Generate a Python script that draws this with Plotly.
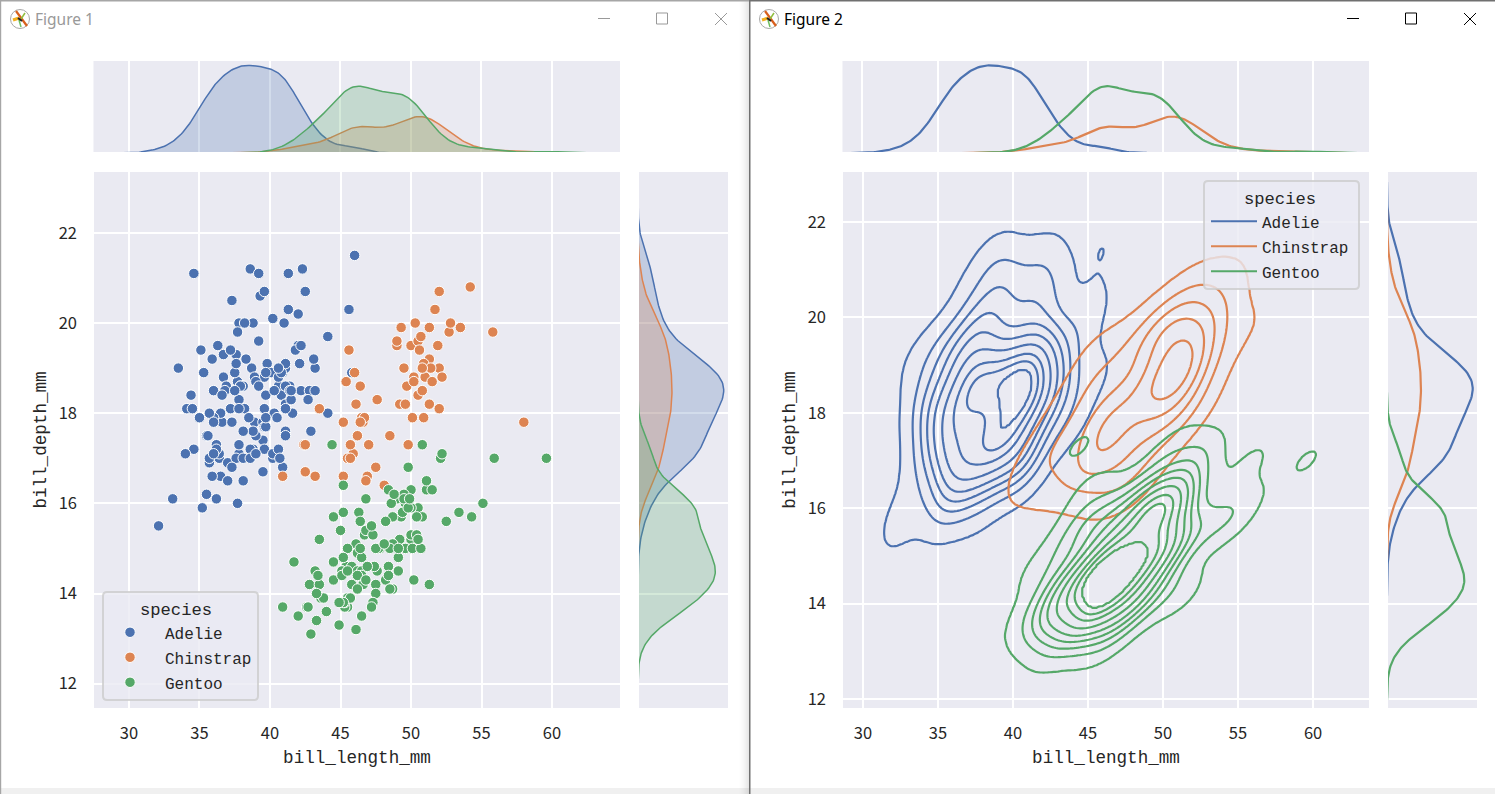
import numpy as np
import plotly.graph_objects as go

W, H = 1495, 794
HV = 792  # drawn height the page actually shows; positions below are mapped through it

species = ["Adelie", "Chinstrap", "Gentoo"]
colors = ["#4C72B0", "#DD8452", "#55A868"]
fills = ["rgba(76,114,176,0.25)", "rgba(221,132,82,0.25)", "rgba(85,168,104,0.25)"]

adelie_length = [39.1,39.5,40.3,36.7,39.3,38.9,39.2,34.1,42.0,37.8,37.8,41.1,38.6,34.6,36.6,38.7,42.5,34.4,46.0,37.8,37.7,35.9,38.2,38.8,35.3,40.6,40.5,37.9,40.5,39.5,37.2,39.5,40.9,36.4,39.2,38.8,42.2,37.6,39.8,36.5,40.8,36.0,44.1,37.0,39.6,41.1,37.5,36.0,42.3,39.6,40.1,35.0,42.0,34.5,41.4,39.0,40.6,36.5,37.6,35.7,41.3,37.6,41.1,36.4,41.6,35.5,41.1,35.9,41.8,33.5,39.7,39.6,45.8,35.5,42.8,40.9,37.2,36.2,42.1,34.6,42.9,36.7,35.1,37.3,41.3,36.3,36.9,38.3,38.9,35.7,41.1,34.0,39.6,36.2,40.8,38.1,40.3,33.1,43.2,35.0,41.0,37.7,37.8,37.9,39.7,38.6,38.2,38.1,43.2,38.1,45.6,39.7,42.2,39.6,42.7,38.6,37.3,35.7,41.1,36.2,37.7,40.2,41.4,35.2,40.6,38.8,41.5,39.0,44.1,38.5,43.1,36.8,37.5,38.1,41.1,35.6,40.2,37.0,39.7,40.2,40.6,32.1,40.7,37.3,39.0,39.2,36.6,36.0,37.8,36.0,41.5]
adelie_depth = [18.7,17.4,18.0,19.3,20.6,17.8,19.6,18.1,20.2,17.1,17.3,17.6,21.2,21.1,17.8,19.0,20.7,18.4,21.5,18.3,18.7,19.2,18.1,17.2,18.9,18.6,17.9,18.6,18.9,16.7,18.1,17.8,18.9,17.0,21.1,20.0,18.5,19.3,19.1,18.0,18.4,18.5,19.7,16.9,18.8,19.0,18.9,17.9,21.2,17.7,18.9,17.9,19.5,18.1,18.6,17.5,18.8,16.6,19.1,16.9,21.1,17.0,18.2,17.1,18.0,16.2,19.1,16.6,19.4,19.0,18.4,17.2,18.9,17.5,18.5,16.8,19.4,16.1,19.1,17.2,17.6,18.8,19.4,17.8,20.3,19.5,18.6,19.2,18.8,18.0,18.1,17.1,18.1,17.3,18.9,18.6,18.5,16.1,18.5,17.9,20.0,16.0,20.0,18.6,18.9,17.2,20.0,17.0,19.0,16.5,20.3,17.7,19.5,20.7,18.3,17.0,20.5,17.0,18.6,17.2,19.8,17.0,18.5,15.9,19.0,17.6,18.3,17.1,18.0,17.9,19.2,18.5,18.5,17.6,17.5,17.5,20.1,16.5,17.9,17.1,17.2,15.5,17.0,16.8,18.7,18.6,18.4,17.8,18.1,17.1,18.5]
chinstrap_length = [46.5,50.0,51.3,45.4,52.7,45.2,46.1,51.3,46.0,51.3,46.6,51.7,47.0,52.0,45.9,50.5,50.3,58.0,46.4,49.2,42.4,48.5,43.2,50.6,46.7,52.0,50.5,49.5,46.4,52.8,40.9,54.2,42.5,51.0,49.7,47.5,47.6,52.0,46.9,53.5,49.0,46.2,50.9,45.5,50.9,50.8,50.1,49.0,51.5,49.8,48.1,51.4,45.7,50.7,42.5,52.2,45.2,49.3,50.2,45.6,51.9,46.8,45.7,55.8,43.5,49.6,50.8,50.2]
chinstrap_depth = [17.9,19.5,19.2,18.7,19.8,17.8,18.2,18.2,18.9,19.9,17.8,20.3,17.3,18.1,17.1,19.6,20.0,17.8,18.6,18.2,17.3,17.5,16.6,19.4,17.9,19.0,18.4,19.0,17.8,20.0,16.6,20.8,16.7,18.8,18.6,16.8,18.3,20.7,16.6,19.9,19.5,17.5,19.1,17.0,17.9,18.5,17.9,19.6,18.7,17.3,16.4,19.0,17.3,19.7,17.3,18.8,16.6,19.9,18.8,19.4,19.5,16.5,17.0,19.8,18.1,18.2,19.0,18.7]
gentoo_length = [46.1,50.0,48.7,50.0,47.6,46.5,45.4,46.7,43.3,46.8,40.9,49.0,45.5,48.4,45.8,49.3,42.0,49.2,46.2,48.7,50.2,45.1,46.5,46.3,42.9,46.1,44.5,47.8,48.2,50.0,47.3,42.8,45.1,59.6,49.1,48.4,42.6,44.4,44.0,48.7,42.7,49.6,45.3,49.6,50.5,43.6,45.5,50.5,44.9,45.2,46.6,48.5,45.1,50.1,46.5,45.0,43.8,45.5,43.2,50.4,45.3,46.2,45.7,54.3,45.8,49.8,46.2,49.5,43.5,50.7,47.7,46.4,48.2,46.5,46.4,48.6,47.5,51.1,45.2,45.2,49.1,52.5,47.4,50.0,44.9,50.8,43.4,51.3,47.5,52.1,47.5,52.2,45.5,49.5,44.5,50.8,49.4,46.9,48.4,51.1,48.5,55.9,47.2,49.1,47.3,46.8,41.7,53.4,43.3,48.1,50.5,49.8,43.5,51.5,46.2,55.1,44.5,48.8,47.2,46.8,50.4,45.2,49.9]
gentoo_depth = [13.2,16.3,14.1,15.2,14.5,13.5,14.6,15.3,13.4,15.4,13.7,16.1,13.7,14.6,14.6,15.7,13.5,15.2,14.5,15.1,14.3,14.5,14.5,15.8,13.1,15.1,14.3,15.0,14.3,15.3,15.3,14.2,14.5,17.0,14.8,16.3,13.7,17.3,13.6,15.7,13.7,16.0,13.7,15.0,15.9,13.9,13.9,15.9,13.3,15.8,14.2,14.1,14.4,15.0,14.4,15.4,13.9,15.0,14.5,15.3,13.8,14.9,13.9,15.7,14.2,16.8,14.4,16.2,14.2,15.0,15.0,15.6,15.6,14.8,15.0,16.0,14.2,16.3,13.8,16.4,14.5,15.6,14.6,15.9,13.8,17.3,14.4,14.2,14.0,17.0,15.0,17.1,14.5,16.1,14.7,15.7,15.8,14.6,14.4,16.5,15.0,17.0,15.5,15.0,13.8,16.1,14.7,15.8,14.0,15.1,15.2,15.9,15.2,16.3,14.1,16.0,15.7,16.2,13.7,14.3,15.7,14.8,16.1]

lengths = [adelie_length, chinstrap_length, gentoo_length]
depths = [adelie_depth, chinstrap_depth, gentoo_depth]
x_ticks = [30, 35, 40, 45, 50, 55, 60]
y_ticks = [12, 14, 16, 18, 20, 22]
x_title, y_title = "bill_length_mm", "bill_depth_mm"
window_titles = ["Figure 1", "Figure 2"]
legend_title = "species"

TOTAL = sum(len(v) for v in lengths)
GRID = 200


def kde1d(values):
    v = np.asarray(values, float)
    n = len(v)
    bw = v.std(ddof=1) * n ** (-1 / 5)
    g = np.linspace(v.min() - 3 * bw, v.max() + 3 * bw, GRID)
    d = np.exp(-0.5 * ((g[:, None] - v[None, :]) / bw) ** 2).sum(axis=1)
    d /= n * bw * np.sqrt(2 * np.pi)
    return g, d * n / TOTAL


def kde2d(xs, ys):
    x, y = np.asarray(xs, float), np.asarray(ys, float)
    n = len(x)
    f = n ** (-1 / 6)
    cov = np.cov(x, y) * f ** 2
    inv = np.linalg.inv(cov)
    gx = np.linspace(x.min() - 3 * np.sqrt(cov[0, 0]), x.max() + 3 * np.sqrt(cov[0, 0]), GRID)
    gy = np.linspace(y.min() - 3 * np.sqrt(cov[1, 1]), y.max() + 3 * np.sqrt(cov[1, 1]), GRID)
    dx = gx[None, :, None] - x[None, None, :]
    dy = gy[:, None, None] - y[None, None, :]
    q = inv[0, 0] * dx ** 2 + 2 * inv[0, 1] * dx * dy + inv[1, 1] * dy ** 2
    z = np.exp(-0.5 * q).sum(axis=2) / (n * 2 * np.pi * np.sqrt(np.linalg.det(cov)))
    return gx, gy, z * n / TOTAL


def xp(px):
    return px / W


def yp(py):
    return 1 - py / HV


def dom(a, b):
    return [xp(a), xp(b)]


def domy(top, bottom):
    return [yp(bottom), yp(top)]


fig = go.Figure()

marg_x = [kde1d(v) for v in lengths]
marg_y = [kde1d(v) for v in depths]
peak_x = max(d.max() for _, d in marg_x) * 1.05
peak_y = max(d.max() for _, d in marg_y) * 1.05
# lower bound lifted about one pixel so the flat tails are clipped away as in the reference
low_x = peak_x / 91
low_y = peak_y / 89

# ---- Figure 1: scatter with filled marginals
for i, s in enumerate(species):
    fig.add_trace(go.Scatter(
        x=lengths[i], y=depths[i], mode="markers", name=s, legend="legend", legendgroup="a" + s,
        marker=dict(color=colors[i], size=10.5, line=dict(color="white", width=1)),
        xaxis="x", yaxis="y", hoverinfo="skip"))
for i, s in enumerate(species):
    g, d = marg_x[i]
    fig.add_trace(go.Scatter(x=g, y=d, mode="lines", fill="tozeroy", fillcolor=fills[i],
                             line=dict(color=colors[i], width=1.5), showlegend=False,
                             xaxis="x2", yaxis="y2", hoverinfo="skip"))
    g, d = marg_y[i]
    fig.add_trace(go.Scatter(x=d, y=g, mode="lines", fill="tozerox", fillcolor=fills[i],
                             line=dict(color=colors[i], width=1.5), showlegend=False,
                             xaxis="x3", yaxis="y3", hoverinfo="skip"))

# ---- Figure 2: KDE contours with line marginals
grids = [kde2d(lengths[i], depths[i]) for i in range(3)]
pooled = np.sort(np.concatenate([z.ravel() for _, _, z in grids]))[::-1]
cum = np.cumsum(pooled) / pooled.sum()
iso = np.linspace(0.05, 1, 10)[:-1]
levels = pooled[np.searchsorted(cum, 1 - iso)]
levels = np.sort(levels)
nl = len(levels)
for i, s in enumerate(species):
    gx, gy, z = grids[i]
    zz = np.interp(z, np.r_[0, levels, pooled[0] * 2], np.r_[0, np.arange(1, nl + 1), nl + 1])
    fig.add_trace(go.Contour(
        x=gx, y=gy, z=zz.astype("float32"), showscale=False, hoverinfo="skip",
        autocontour=False, contours=dict(start=1, end=nl, size=1, coloring="lines"),
        line=dict(width=2.2, smoothing=0),
        colorscale=[[0, colors[i]], [1, colors[i]]],
        xaxis="x4", yaxis="y4", showlegend=False))
for i, s in enumerate(species):
    g, d = marg_x[i]
    fig.add_trace(go.Scatter(x=g, y=d, mode="lines", name=s, legend="legend2", legendgroup="b" + s,
                             line=dict(color=colors[i], width=2.2),
                             xaxis="x5", yaxis="y5", hoverinfo="skip"))
    g, d = marg_y[i]
    fig.add_trace(go.Scatter(x=d, y=g, mode="lines", showlegend=False,
                             line=dict(color=colors[i], width=2.2),
                             xaxis="x6", yaxis="y6", hoverinfo="skip"))

TICK = dict(family="Noto Sans CJK SC, Noto Sans, sans-serif", size=16.5, color="#262626")
MONO_FAM = "Liberation Mono, DejaVu Sans Mono, monospace"
MONO = dict(family=MONO_FAM, size=17.6, color="#262626")
LEG = dict(family=MONO_FAM, size=16, color="#262626")
LEGT = dict(family=MONO_FAM, size=17.2, color="#262626")
BG = "#EAEAF2"


def main_x(d, rng, anchor):
    return dict(domain=d, range=rng, anchor=anchor, tickvals=x_ticks, showgrid=True, gridcolor="white",
                gridwidth=2, zeroline=False, showline=False, ticks="", tickfont=TICK, ticklabelstandoff=13,
                title=dict(text=x_title, font=MONO, standoff=8))


def main_y(d, rng, anchor):
    return dict(domain=d, range=rng, anchor=anchor, tickvals=y_ticks, showgrid=True, gridcolor="white",
                gridwidth=2, zeroline=False, showline=False, ticks="", tickfont=TICK, ticklabelstandoff=16,
                title=dict(text=y_title, font=MONO, standoff=7))


def top_x(d, rng, anchor):
    return dict(domain=d, range=rng, anchor=anchor, tickvals=x_ticks, showgrid=True, gridcolor="white",
                gridwidth=2, zeroline=False, showticklabels=False, ticks="")


def plain(d, rng, anchor):
    return dict(domain=d, range=rng, anchor=anchor, showgrid=False, zeroline=False,
                showticklabels=False, ticks="")


def right_y(d, rng, anchor):
    return dict(domain=d, range=rng, anchor=anchor, tickvals=y_ticks, showgrid=True, gridcolor="white",
                gridwidth=2, zeroline=False, showticklabels=False, ticks="")


XR1, YR1 = [27.52, 64.82], [11.46, 23.35]
XR2, YR2 = [28.67, 63.73], [11.81, 23.05]
MTOP = domy(61, 152)
MMAIN = domy(172, 708)

shapes = []


def rect(x0, y0, x1, y1, fill, opacity=1.0):
    shapes.append(dict(type="rect", xref="paper", yref="paper", x0=xp(x0), x1=xp(x1), y0=yp(y0), y1=yp(y1),
                       fillcolor=fill, line=dict(width=0), opacity=opacity, layer="below"))


def seg(x0, y0, x1, y1, color, width=1.0):
    shapes.append(dict(type="line", xref="paper", yref="paper", x0=xp(x0), x1=xp(x1), y0=yp(y0), y1=yp(y1),
                       line=dict(color=color, width=width), layer="below"))


def legend_frame(x0, y0, x1, y1, r=4):
    p = (f"M {xp(x0 + r)} {yp(y0)} L {xp(x1 - r)} {yp(y0)} Q {xp(x1)} {yp(y0)} {xp(x1)} {yp(y0 + r)} "
         f"L {xp(x1)} {yp(y1 - r)} Q {xp(x1)} {yp(y1)} {xp(x1 - r)} {yp(y1)} "
         f"L {xp(x0 + r)} {yp(y1)} Q {xp(x0)} {yp(y1)} {xp(x0)} {yp(y1 - r)} "
         f"L {xp(x0)} {yp(y0 + r)} Q {xp(x0)} {yp(y0)} {xp(x0 + r)} {yp(y0)} Z")
    shapes.append(dict(type="path", xref="paper", yref="paper", path=p, fillcolor="rgba(234,234,242,0.8)",
                       line=dict(color="rgba(204,204,204,0.8)", width=2), layer="above"))


def icon(cx, cy):
    shapes.append(dict(type="circle", xref="paper", yref="paper", x0=xp(cx - 9.5), x1=xp(cx + 9.5),
                       y0=yp(cy + 9.5), y1=yp(cy - 9.5), line=dict(color="#a8a8a8", width=1), layer="below"))
    seg(cx - 4, cy - 8, cx + 7, cy + 7, "#d9601c", 2.2)
    seg(cx - 7, cy + 1, cx - 1, cy - 1, "#f2b01e", 3)
    seg(cx + 1, cy, cx + 5, cy - 6, "#8fbf3f", 1.5)
    seg(cx - 1, cy + 1, cx + 1, cy + 8, "#6fbf5f", 1.5)
    seg(cx - 2, cy - 1, cx + 2, cy + 2, "#222222", 2)


# window chrome
rect(0, 788, W, HV + 4, "#f0f0f0")
for k in range(10):
    rect(739 + k, 0, 740 + k, HV + 4, "#000000", opacity=0.0025 * (k + 1) ** 1.6)
rect(0, 0, 749, 1.5, "#a6a6a6")
rect(0, 0, 1.2, HV + 4, "#a6a6a6")
rect(750, 0, W, 1.5, "#707070")
rect(749, 0, 750.5, HV + 4, "#707070")
icon(20, 19)
icon(769, 19)
GA, GB = "#999999", "#000000"
seg(598, 18.5, 610, 18.5, GA)
seg(715, 13, 727, 25, GA)
seg(715, 25, 727, 13, GA)
shapes.append(dict(type="rect", xref="paper", yref="paper", x0=xp(656.5), x1=xp(667.5), y0=yp(24), y1=yp(13),
                   line=dict(color=GA, width=1), layer="below"))
seg(1347, 18.5, 1359, 18.5, GB)
seg(1464, 13, 1476, 25, GB)
seg(1464, 25, 1476, 13, GB)
shapes.append(dict(type="rect", xref="paper", yref="paper", x0=xp(1405.5), x1=xp(1416.5), y0=yp(24), y1=yp(13),
                   line=dict(color=GB, width=1), layer="below"))
legend_frame(103, 592, 258, 700)
legend_frame(1204, 181, 1359, 289)

annotations = [
    dict(text=window_titles[0], x=xp(33), y=yp(19), xref="paper", yref="paper", xanchor="left", yanchor="middle",
         showarrow=False, font=dict(family="Noto Sans, sans-serif", size=15.5, color="#999999")),
    dict(text=window_titles[1], x=xp(782), y=yp(19), xref="paper", yref="paper", xanchor="left", yanchor="middle",
         showarrow=False, font=dict(family="Noto Sans, sans-serif", size=15.5, color="#000000")),
]

leg_common = dict(bgcolor="rgba(0,0,0,0)", borderwidth=0, font=LEG, xanchor="left", yanchor="top",
                  tracegroupgap=1.2, title=dict(text=legend_title, font=LEGT, side="top center"))

fig.update_layout(
    width=W, height=H, autosize=False, margin=dict(l=0, r=0, t=0, b=0),
    paper_bgcolor="white", plot_bgcolor=BG, hovermode=False,
    xaxis=main_x(dom(94, 620), XR1, "y"),
    yaxis=main_y(MMAIN, YR1, "x"),
    xaxis2=top_x(dom(93.5, 620), XR1, "y2"),
    yaxis2=plain(MTOP, [low_x, peak_x], "x2"),
    xaxis3=plain(dom(639, 728), [low_y, peak_y], "y3"),
    yaxis3=right_y(MMAIN, YR1, "x3"),
    xaxis4=main_x(dom(843, 1369), XR2, "y4"),
    yaxis4=main_y(MMAIN, YR2, "x4"),
    xaxis5=top_x(dom(842.5, 1369), XR2, "y5"),
    yaxis5=plain(MTOP, [low_x, peak_x], "x5"),
    xaxis6=plain(dom(1388, 1477), [low_y, peak_y], "y6"),
    yaxis6=right_y(MMAIN, YR2, "x6"),
    legend=dict(x=xp(95), y=yp(593), itemwidth=60, **leg_common),
    legend2=dict(x=xp(1206), y=yp(182), itemwidth=46, **leg_common),
    shapes=shapes, annotations=annotations,
)

fig.write_html("out.html", config=dict(displayModeBar=False),
               post_script="document.body.style.margin='0';document.body.style.overflow='hidden';")
